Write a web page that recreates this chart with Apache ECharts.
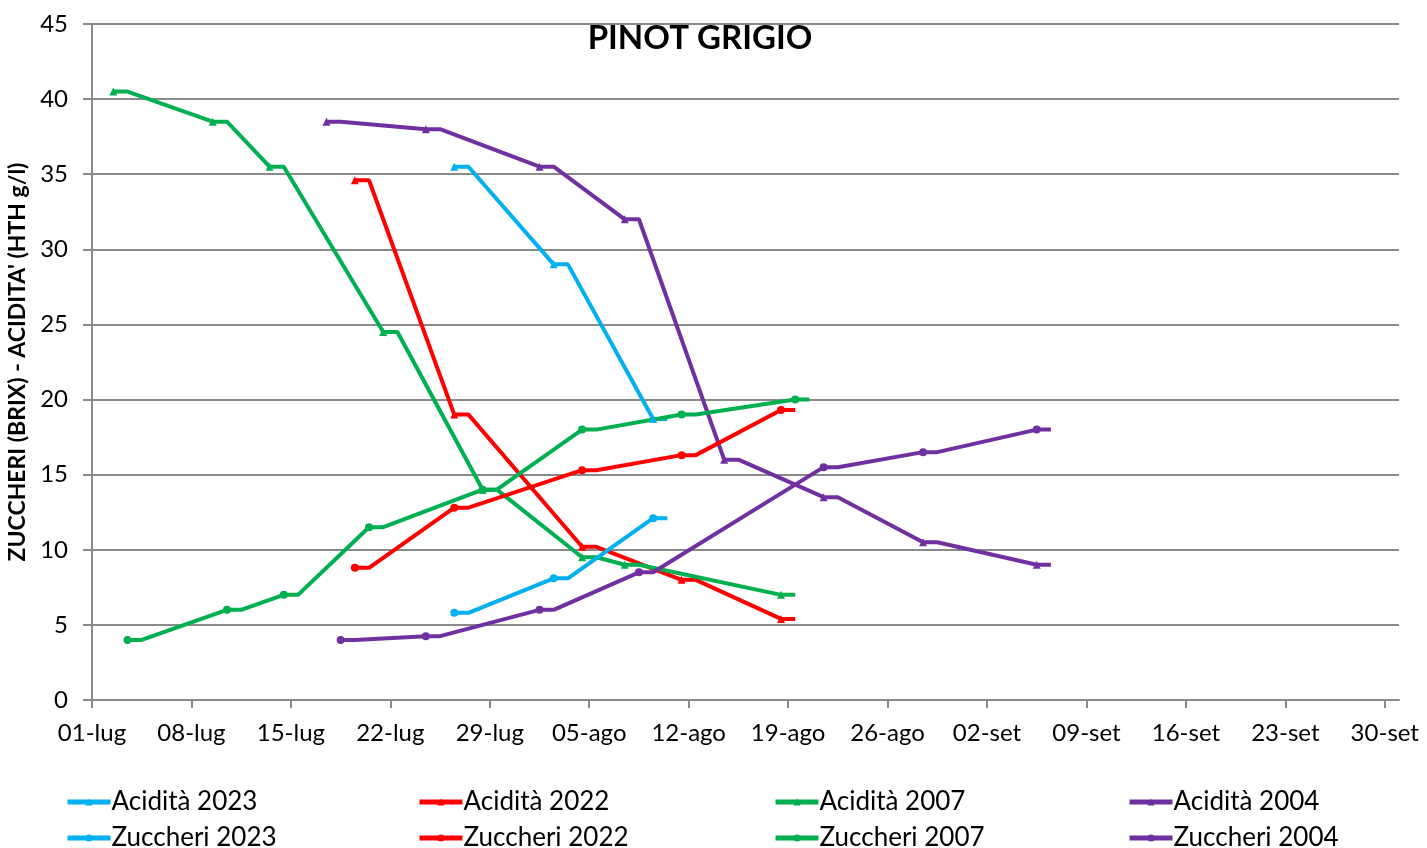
<!DOCTYPE html>
<html>
<head>
<meta charset="utf-8">
<script src="https://cdn.jsdelivr.net/npm/echarts@6/dist/echarts.min.js"></script>
<style>
  html, body { margin: 0; padding: 0; background: #fff; }
  #chart { width: 1427px; height: 848px; }
</style>
</head>
<body>
<div id="chart"></div>
<script>
// etichette asse X (ogni 7 giorni dal 01-lug)
const tickLabels = ['01-lug', '08-lug', '15-lug', '22-lug', '29-lug', '05-ago', '12-ago',
  '19-ago', '26-ago', '02-set', '09-set', '16-set', '23-set', '30-set'];

// date dei prelievi e valori
const acid2023Dates = ['26-lug', '02-ago', '09-ago'];
const acid2023 = [35.5, 29, 18.7];
const zucc2023Dates = ['26-lug', '02-ago', '09-ago'];
const zucc2023 = [5.8, 8.1, 12.1];

const acid2022Dates = ['19-lug', '26-lug', '04-ago', '11-ago', '18-ago'];
const acid2022 = [34.6, 19, 10.2, 8, 5.4];
const zucc2022Dates = ['19-lug', '26-lug', '04-ago', '11-ago', '18-ago'];
const zucc2022 = [8.8, 12.8, 15.3, 16.3, 19.3];

const acid2007Dates = ['02-lug', '09-lug', '13-lug', '21-lug', '28-lug', '04-ago', '07-ago', '18-ago'];
const acid2007 = [40.5, 38.5, 35.5, 24.5, 14, 9.5, 9, 7];
const zucc2007Dates = ['03-lug', '10-lug', '14-lug', '20-lug', '28-lug', '04-ago', '11-ago', '19-ago'];
const zucc2007 = [4, 6, 7, 11.5, 14, 18, 19, 20];

const acid2004Dates = ['17-lug', '24-lug', '01-ago', '07-ago', '14-ago', '21-ago', '28-ago', '05-set'];
const acid2004 = [38.5, 38, 35.5, 32, 16, 13.5, 10.5, 9];
const zucc2004Dates = ['18-lug', '24-lug', '01-ago', '08-ago', '21-ago', '28-ago', '05-set'];
const zucc2004 = [4, 4.25, 6, 8.5, 15.5, 16.5, 18];

const monthStart = { lug: 0, ago: 31, set: 62 };

// giorno dal 01-lug; il punto sta a metà giornata e la linea resta piatta per un giorno (come in Excel)
function toDay(label) {
  const [dd, mm] = label.split('-');
  return monthStart[mm] + parseInt(dd, 10) - 1;
}

function buildData(dates, values) {
  const out = [];
  dates.forEach((d, i) => {
    const x = toDay(d) + 0.5;
    out.push({ value: [x, values[i]] });
    out.push({ value: [x + 1, values[i]], symbol: 'none' });
  });
  return out;
}

const FONT = 'Lato, "Liberation Sans", sans-serif';

function makeSeries(name, color, symbol, dates, values) {
  return {
    name: name,
    type: 'line',
    symbol: symbol,
    symbolSize: 8,
    showSymbol: true,
    lineStyle: { color: color, width: 4 },
    itemStyle: { color: color },
    data: buildData(dates, values)
  };
}

// una legenda per voce, disposte su 4 colonne e 2 righe
const legendCols = [65, 417, 773, 1127];
const legendRows = [788, 824];
const legendNames = [
  ['Acidità 2023', 'Zuccheri 2023'],
  ['Acidità 2022', 'Zuccheri 2022'],
  ['Acidità 2007', 'Zuccheri 2007'],
  ['Acidità 2004', 'Zuccheri 2004']
];
const legends = [];
legendNames.forEach((pair, c) => {
  pair.forEach((name, r) => {
    legends.push({
      left: legendCols[c],
      top: legendRows[r],
      padding: 0,
      itemWidth: 43,
      itemHeight: 9,
      lineStyle: { width: 5 },
      data: [name],
      textStyle: { fontFamily: FONT, fontSize: 26, color: '#000', lineHeight: 28, padding: [0, 0, 0, -4] }
    });
  });
});

const chart = echarts.init(document.getElementById('chart'));

chart.setOption({
  animation: false,
  backgroundColor: '#fff',
  title: {
    text: 'PINOT GRIGIO',
    left: 695,
    textAlign: 'center',
    top: 17,
    textStyle: { fontFamily: FONT, fontSize: 33, fontWeight: 'bold', color: '#000' }
  },
  legend: legends,
  grid: { left: 92, right: 28, top: 24, bottom: 148, containLabel: false, outerBoundsMode: 'none' },
  xAxis: {
    type: 'value',
    min: 0,
    max: 92,
    interval: 7,
    axisLine: { lineStyle: { color: '#8a8a8a', width: 2 } },
    axisTick: {
      show: true, length: 8, inside: false,
      lineStyle: { color: '#8a8a8a', width: 2 },
      customValues: tickLabels.map((_, i) => i * 7)
    },
    axisLabel: {
      fontFamily: FONT, fontSize: 24, color: '#000', margin: 21,
      customValues: tickLabels.map((_, i) => i * 7),
      formatter: v => tickLabels[Math.round(v / 7)] || ''
    },
    splitLine: { show: false }
  },
  yAxis: {
    type: 'value',
    min: 0,
    max: 45,
    interval: 5,
    name: "ZUCCHERI (BRIX) - ACIDITA' (HTH g/l)",
    nameLocation: 'middle',
    nameGap: 62,
    nameTextStyle: { fontFamily: FONT, fontSize: 23, fontWeight: 'bold', color: '#000' },
    axisLine: { show: true, lineStyle: { color: '#8a8a8a', width: 2 } },
    axisTick: { show: true, length: 9, lineStyle: { color: '#8a8a8a', width: 2 } },
    axisLabel: { fontFamily: FONT, fontSize: 24, color: '#000', margin: 24 },
    splitLine: { show: true, lineStyle: { color: '#8a8a8a', width: 2 } }
  },
  series: [
    makeSeries('Acidità 2023', '#00b0f0', 'triangle', acid2023Dates, acid2023),
    makeSeries('Acidità 2022', '#ff0000', 'triangle', acid2022Dates, acid2022),
    makeSeries('Acidità 2007', '#00b050', 'triangle', acid2007Dates, acid2007),
    makeSeries('Acidità 2004', '#7030a0', 'triangle', acid2004Dates, acid2004),
    makeSeries('Zuccheri 2023', '#00b0f0', 'circle', zucc2023Dates, zucc2023),
    makeSeries('Zuccheri 2022', '#ff0000', 'circle', zucc2022Dates, zucc2022),
    makeSeries('Zuccheri 2007', '#00b050', 'circle', zucc2007Dates, zucc2007),
    makeSeries('Zuccheri 2004', '#7030a0', 'circle', zucc2004Dates, zucc2004)
  ]
});
</script>
</body>
</html>
